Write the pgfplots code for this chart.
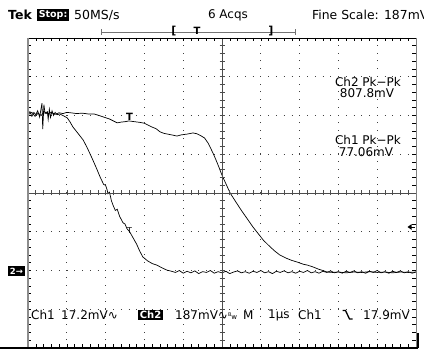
\documentclass[border=0pt]{standalone}
\usepackage{fontspec}
\setmainfont{DejaVu Sans}
\usepackage{pgfplots}
\pgfplotsset{compat=1.18}
\begin{document}
\begin{tikzpicture}[x=1pt,y=1pt]
\useasboundingbox (0,0) rectangle (424,351);
\clip (0,0) rectangle (424,351);
\begin{axis}[
  at={(28pt,3pt)}, anchor=south west,
  scale only axis, width=388pt, height=310pt,
  xmin=0, xmax=10, ymin=-4, ymax=4,
  xtick={0,...,10}, ytick={-4,...,4},
  minor x tick num=4, minor y tick num=4,
  xticklabels={}, yticklabels={},
  xtick pos=both, ytick pos=both,
  tick align=inside, major tick length=3.5pt, minor tick length=3.5pt,
  tick style={black, line width=0.5pt},
  grid=major,
  grid style={black!75, line width=0.9pt, dash pattern=on 0.9pt off 6.85pt},
  axis line style={draw=none},
]
% Ch2 trace
\addplot[black, line width=0.7pt] coordinates {
(0.00,2.02)(0.10,2.08)(0.18,1.98)(0.26,2.06)(0.34,2.00)(0.42,2.10)(0.50,2.04)
(0.60,2.08)(0.70,2.03)(0.80,2.07)(0.90,2.05)(1.00,2.08)(1.10,2.07)(1.25,2.05)
(1.40,2.06)(1.55,2.04)(1.70,2.04)(1.80,2.01)(1.95,1.96)(2.10,1.91)(2.20,1.86)
(2.30,1.81)(2.40,1.83)(2.50,1.84)(2.60,1.86)(2.75,1.84)(2.90,1.82)(3.00,1.80)
(3.10,1.75)(3.20,1.70)(3.30,1.66)(3.40,1.58)(3.50,1.54)(3.60,1.52)(3.70,1.50)
(3.84,1.47)(3.95,1.50)(4.10,1.52)(4.25,1.55)(4.35,1.53)(4.45,1.48)(4.55,1.42)
(4.64,1.29)(4.72,1.13)(4.80,0.96)(4.90,0.72)(5.00,0.46)(5.10,0.24)(5.21,0.00)
(5.35,-0.22)(5.50,-0.45)(5.64,-0.65)(5.80,-0.88)(5.95,-1.07)(6.06,-1.21)
(6.20,-1.35)(6.35,-1.49)(6.49,-1.60)(6.65,-1.68)(6.80,-1.74)(6.93,-1.78)
(7.10,-1.84)(7.20,-1.86)(7.35,-1.91)(7.50,-1.97)(7.60,-2.00)(7.71,-2.04)
(7.85,-2.05)(8.00,-2.04)(8.20,-2.06)(8.40,-2.04)(8.60,-2.05)(8.80,-2.03)
(9.00,-2.05)(9.20,-2.04)(9.40,-2.06)(9.60,-2.04)(9.80,-2.05)(10.00,-2.04)
};
% Ch1 trace
\addplot[black, line width=0.7pt] coordinates {
(0.00,2.04)(0.05,2.10)(0.10,1.98)(0.15,2.08)(0.20,2.02)(0.25,2.12)(0.30,1.96)
(0.36,2.32)(0.38,1.65)(0.41,2.28)(0.44,2.05)(0.50,2.10)(0.52,1.90)(0.55,2.16)
(0.58,1.95)(0.62,2.12)(0.66,2.00)(0.70,2.08)(0.75,2.02)(0.82,2.04)(0.90,2.00)
(1.01,1.94)(1.08,1.84)(1.16,1.70)(1.28,1.55)(1.42,1.37)(1.52,1.18)(1.65,0.90)
(1.76,0.65)(1.86,0.41)(1.95,0.22)(2.00,0.20)(2.04,0.08)(2.06,-0.02)(2.10,0.02)
(2.15,-0.20)(2.19,-0.31)(2.25,-0.45)(2.30,-0.42)(2.36,-0.60)(2.45,-0.77)
(2.50,-0.80)(2.55,-0.92)(2.62,-1.00)(2.71,-1.16)(2.80,-1.32)(2.88,-1.50)
(2.96,-1.65)(3.08,-1.75)(3.20,-1.82)(3.32,-1.86)(3.45,-1.93)(3.58,-1.99)
(3.70,-2.02)(3.8,-2.05)(3.9,-2.00)(4.0,-2.07)(4.1,-2.02)(4.2,-2.06)(4.3,-2.01)
(4.4,-2.08)(4.5,-2.03)(4.6,-2.05)(4.7,-2.00)(4.8,-2.07)(4.9,-2.03)(5.0,-2.06)
(5.1,-2.02)(5.2,-2.08)(5.3,-2.04)(5.4,-2.01)(5.5,-2.06)(5.6,-2.03)(5.7,-2.07)
(5.8,-2.02)(5.9,-2.05)(6.0,-2.00)(6.1,-2.06)(6.2,-2.03)(6.3,-2.08)(6.4,-2.02)
(6.5,-2.05)(6.6,-2.01)(6.7,-2.06)(6.8,-2.03)(6.9,-2.07)(7.0,-2.02)(7.1,-2.05)
(7.2,-2.00)(7.3,-2.06)(7.4,-2.03)(7.5,-2.07)(7.6,-2.02)(7.7,-2.05)(7.8,-2.01)
(7.9,-2.06)(8.0,-2.03)(8.1,-2.07)(8.2,-2.02)(8.3,-2.05)(8.4,-2.01)(8.5,-2.06)
(8.6,-2.03)(8.7,-2.07)(8.8,-2.02)(8.9,-2.05)(9.0,-2.00)(9.1,-2.06)(9.2,-2.03)
(9.3,-2.07)(9.4,-2.02)(9.5,-2.05)(9.6,-2.01)(9.7,-2.06)(9.8,-2.03)(9.9,-2.07)
(10.0,-2.04)
};
\end{axis}
% centre cross
\draw[black!70, line width=0.6pt] (28,158) -- (416,158);
\draw[black!70, line width=0.6pt] (222,3) -- (222,313);
\foreach \i in {1,...,49} \draw[black!70, line width=0.6pt] ({28+7.76*\i},155.5) -- ++(0,5);
\foreach \i in {1,...,39} \draw[black!70, line width=0.6pt] (219.5,{3+7.75*\i}) -- ++(5,0);
% borders
\draw[black, line width=0.8pt] (28,313) -- (416,313);
\draw[black!50, line width=0.6pt] (416,3) -- (416,313);
\draw[black!45, line width=2.6pt] (28,3) -- (28,313.4);
\draw[black, line width=1.6pt] (0,3.2) -- (418,3.2);
\draw[black, line width=2pt] (417.5,3) -- (417.5,18);
% header
\node[anchor=west, font=\bfseries\fontsize{12.5}{12.5}\selectfont, inner sep=0pt] at (8,336) {Tek};
\node[anchor=west, fill=black, text=white, font=\bfseries\fontsize{9.5}{9.5}\selectfont, inner sep=1.6pt] at (37,336) {Stop:};
\node[anchor=west, font=\fontsize{12.5}{12.5}\selectfont, inner sep=0pt] at (74,336) {50MS/s};
\node[font=\fontsize{12}{12}\selectfont, inner sep=0pt] at (228,336) {6 Acqs};
\node[anchor=west, font=\fontsize{12.4}{12.4}\selectfont, inner sep=0pt] at (312,336) {Fine Scale: 187mV};
% record bar
\draw[black!55, line width=0.5pt] (101,319) -- (295,319);
\draw[black!55, line width=0.5pt] (101,316) -- (101,322);
\draw[black!55, line width=0.5pt] (295,316) -- (295,322);
\node[font=\bfseries\fontsize{11}{11}\selectfont, inner sep=0pt] at (174,319.5) {[};
\node[font=\bfseries\fontsize{11}{11}\selectfont, inner sep=0pt] at (271,319.5) {]};
\node[font=\bfseries\fontsize{10}{10}\selectfont, inner sep=0pt] at (197,320) {T};
% measurements
\node[font=\fontsize{12}{12}\selectfont, inner sep=0pt] at (368,269) {Ch2 Pk−Pk};
\node[font=\fontsize{12}{12}\selectfont, inner sep=0pt] at (367,258) {807.8mV};
\node[font=\fontsize{12}{12}\selectfont, inner sep=0pt] at (368,211) {Ch1 Pk−Pk};
\node[font=\fontsize{12}{12}\selectfont, inner sep=0pt] at (366,199) {77.06mV};
% trace markers
\node[font=\bfseries\fontsize{10}{10}\selectfont, inner sep=0pt] at (129.5,234) {T};
\node[font=\fontsize{8}{8}\selectfont, inner sep=0pt] at (129.5,120) {T};
% ground marker
\node[fill=black, text=white, font=\bfseries\fontsize{8.5}{8.5}\selectfont, inner sep=1.8pt] at (16.5,80) {2→};
% trigger level arrow
\fill[black] (407.5,124) -- (411.5,126.8) -- (411.5,121.2) -- cycle;
\draw[black, line width=0.7pt] (411,124) -- (415,124);
% bottom readout
\node[anchor=west, font=\fontsize{12}{12}\selectfont, inner sep=0pt] at (31,36) {Ch1};
\node[anchor=west, font=\fontsize{12}{12}\selectfont, inner sep=0pt] at (61,36) {17.2mV∿};
\node[anchor=west, fill=black, text=white, font=\bfseries\fontsize{10}{10}\selectfont, inner sep=1.6pt] at (138,36) {Ch2};
\node[anchor=west, font=\fontsize{12}{12}\selectfont, inner sep=0pt] at (175,36) {187mV∿\raisebox{3pt}{\fontsize{5}{5}\selectfont B}\fontsize{7}{7}\selectfont w};
\node[anchor=west, font=\fontsize{12}{12}\selectfont, inner sep=0pt] at (243,36) {M};
\node[anchor=west, font=\fontsize{12}{12}\selectfont, inner sep=0pt] at (268,36) {1µs};
\node[anchor=west, font=\fontsize{12}{12}\selectfont, inner sep=0pt] at (298,36) {Ch1};
\draw[black, line width=1.3pt] (342.5,40.5) -- (345.5,40.5) -- (349.5,32) -- (352.5,32);
\node[anchor=west, font=\fontsize{12}{12}\selectfont, inner sep=0pt] at (363,36) {17.9mV};
\end{tikzpicture}
\end{document}
